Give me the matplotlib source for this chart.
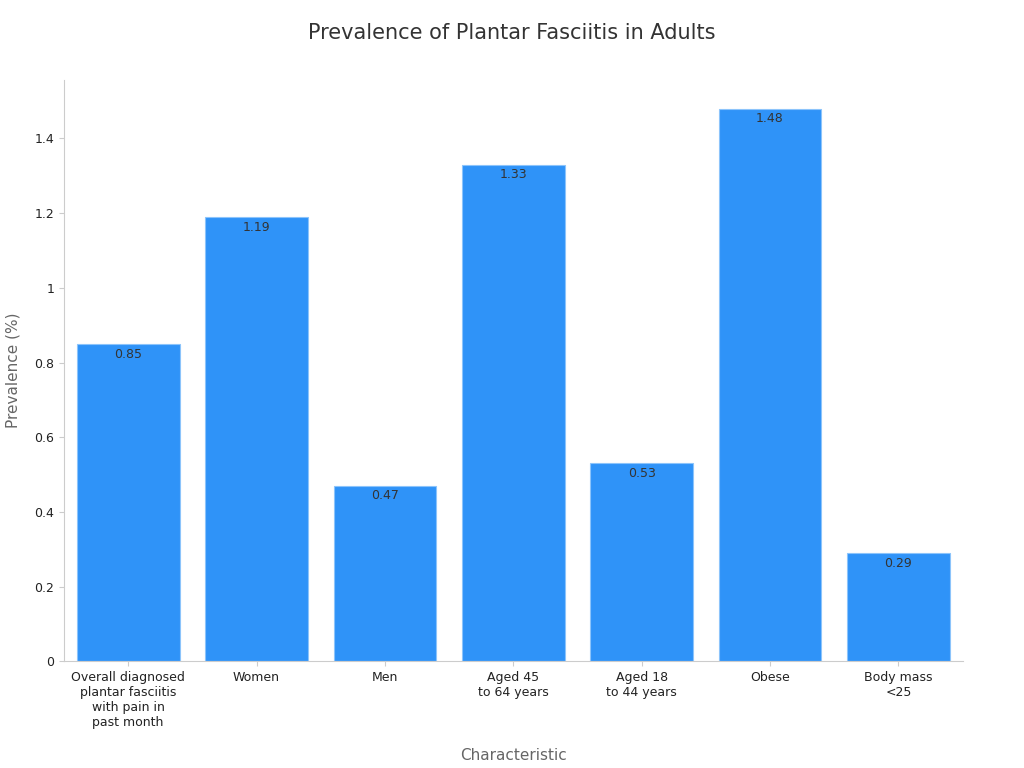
import matplotlib
matplotlib.use("Agg")
import matplotlib.pyplot as plt

categories = ["Overall diagnosed\nplantar fasciitis\nwith pain in\npast month", "Women", "Men",
              "Aged 45\nto 64 years", "Aged 18\nto 44 years", "Obese", "Body mass\n<25"]
values = [0.85, 1.19, 0.47, 1.33, 0.53, 1.48, 0.29]
yticks = [0, 0.2, 0.4, 0.6, 0.8, 1, 1.2, 1.4]
ytick_labels = ["0", "0.2", "0.4", "0.6", "0.8", "1", "1.2", "1.4"]

fig = plt.figure(figsize=(10.24, 7.68), dpi=100)
ax = fig.add_axes([0.0625, 0.139, 0.8775, 0.757])
x = range(len(categories))
bars = ax.bar(x, values, width=0.8, color="#2f93f8", edgecolor="#8cc4fb", linewidth=0.8)
for xi, v in zip(x, values):
    ax.text(xi, v - 0.01, f"{v:g}", ha="center", va="top", fontsize=9, color="#333333")
ax.set_xlim(-0.5, 6.5)
ax.set_ylim(0, 1.557)
ax.set_yticks(yticks)
ax.set_yticklabels(ytick_labels)
ax.set_xticks(list(x))
ax.set_xticklabels(categories, fontsize=9, color="#222222")
ax.tick_params(axis="y", labelsize=9, colors="#222222")
ax.tick_params(color="#cccccc")
for s in ["top", "right"]:
    ax.spines[s].set_visible(False)
for s in ["left", "bottom"]:
    ax.spines[s].set_color("#cccccc")
ax.set_xlabel("Characteristic", fontsize=11, color="#666666", labelpad=14)
ax.set_ylabel("Prevalence (%)", fontsize=11, color="#666666", labelpad=10)
fig.text(0.5, 0.957, "Prevalence of Plantar Fasciitis in Adults", ha="center", va="center",
         fontsize=15, color="#333333")
fig.savefig("out.png", dpi=100)
